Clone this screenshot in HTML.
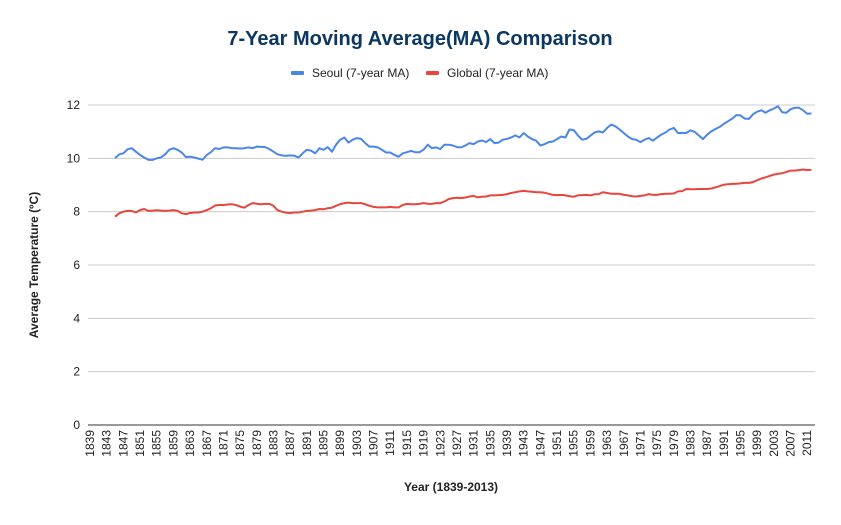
<!DOCTYPE html>
<html><head><meta charset="utf-8"><style>
body{margin:0;background:#fff;font-family:"Liberation Sans",Arial,sans-serif}
svg text{font-family:"Liberation Sans",Arial,sans-serif}
</style></head><body>
<svg id="chart" width="841" height="520" viewBox="0 0 841 520" xmlns="http://www.w3.org/2000/svg">
<rect width="841" height="520" fill="#fff"/>
<text x="420" y="45" text-anchor="middle" font-size="20" font-weight="bold" fill="#0b3761">7-Year Moving Average(MA) Comparison</text>
<g>
<g><rect x="291" y="71" width="13" height="4" rx="1" fill="#4a86e8"/><text x="312" y="77" font-size="12" fill="#222">Seoul (7-year MA)</text></g>
<g><rect x="426" y="71" width="13" height="4" rx="1" fill="#e8453c"/><text x="447" y="77" font-size="12" fill="#222">Global (7-year MA)</text></g>
</g>
<text transform="translate(38,265) rotate(-90)" text-anchor="middle" font-size="12" font-weight="bold" fill="#222">Average Temperature (ºC)</text>
<text x="451" y="491" text-anchor="middle" font-size="12" font-weight="bold" fill="#222">Year (1839-2013)</text>
<g id="grid"></g><g id="xt"></g><g id="lines"></g>
</svg>
<script>
const yTicks=[0,2,4,6,8,10,12];
const startYear=1845;
const seoul=[10.0,10.15,10.19,10.34,10.38,10.25,10.13,10.03,9.94,9.94,10.0,10.03,10.15,10.32,10.38,10.32,10.22,10.05,10.06,10.03,9.99,9.95,10.13,10.23,10.38,10.35,10.41,10.41,10.38,10.38,10.37,10.38,10.41,10.38,10.44,10.43,10.42,10.35,10.25,10.15,10.11,10.09,10.11,10.10,10.03,10.19,10.32,10.29,10.19,10.38,10.32,10.42,10.25,10.51,10.70,10.78,10.59,10.70,10.76,10.73,10.57,10.44,10.44,10.41,10.32,10.22,10.22,10.13,10.06,10.19,10.23,10.28,10.23,10.23,10.32,10.51,10.38,10.41,10.35,10.51,10.51,10.48,10.42,10.41,10.48,10.57,10.53,10.63,10.67,10.61,10.72,10.57,10.59,10.70,10.73,10.78,10.86,10.78,10.95,10.82,10.72,10.66,10.48,10.53,10.61,10.63,10.72,10.82,10.78,11.08,11.06,10.86,10.70,10.73,10.85,10.97,11.01,10.97,11.14,11.27,11.20,11.08,10.95,10.82,10.72,10.70,10.61,10.70,10.76,10.66,10.78,10.89,10.97,11.08,11.14,10.95,10.95,10.95,11.05,10.99,10.86,10.72,10.89,11.01,11.10,11.18,11.29,11.39,11.49,11.62,11.61,11.49,11.48,11.65,11.75,11.80,11.71,11.80,11.87,11.95,11.73,11.71,11.84,11.90,11.90,11.80,11.67,11.68];
const globalT=[7.81,7.94,8.0,8.03,8.03,7.97,8.06,8.10,8.03,8.04,8.05,8.04,8.03,8.04,8.06,8.03,7.94,7.91,7.95,7.97,7.97,8.0,8.06,8.13,8.23,8.25,8.25,8.27,8.28,8.25,8.19,8.15,8.25,8.32,8.30,8.28,8.29,8.29,8.22,8.05,8.0,7.96,7.95,7.97,7.97,8.0,8.03,8.04,8.06,8.10,8.09,8.13,8.15,8.22,8.28,8.32,8.34,8.32,8.32,8.32,8.28,8.22,8.18,8.16,8.16,8.16,8.18,8.16,8.16,8.25,8.29,8.28,8.28,8.29,8.32,8.30,8.29,8.32,8.32,8.38,8.47,8.51,8.52,8.51,8.53,8.57,8.59,8.54,8.56,8.57,8.61,8.61,8.62,8.63,8.66,8.70,8.73,8.76,8.78,8.76,8.75,8.73,8.73,8.71,8.67,8.63,8.62,8.63,8.61,8.58,8.56,8.61,8.62,8.63,8.61,8.65,8.66,8.73,8.70,8.67,8.67,8.67,8.63,8.61,8.58,8.57,8.59,8.61,8.66,8.63,8.63,8.66,8.67,8.67,8.68,8.76,8.77,8.85,8.84,8.84,8.85,8.85,8.85,8.87,8.91,8.96,9.01,9.03,9.04,9.05,9.06,9.08,9.08,9.11,9.18,9.24,9.29,9.34,9.39,9.42,9.44,9.49,9.54,9.54,9.56,9.58,9.56,9.57];
const NS="http://www.w3.org/2000/svg";
function xS(yr){return 90+(yr-1839)*4.17;}
function yS(v){return 425-v*26.667;}
const grid=document.getElementById('grid');
yTicks.forEach(t=>{
  const l=document.createElementNS(NS,'line');
  
  
  l.setAttribute('x1',88);l.setAttribute('x2',815);
  l.setAttribute('y1',yS(t));l.setAttribute('y2',yS(t));
  l.setAttribute('stroke',t===0?'#333':'#ccc');l.setAttribute('stroke-width','1');
  grid.appendChild(l);
  const tx=document.createElementNS(NS,'text');
  
  
  tx.setAttribute('x',80);tx.setAttribute('y',yS(t)+4);
  tx.setAttribute('text-anchor','end');tx.setAttribute('font-size','12');tx.setAttribute('fill','#222');
  tx.textContent=t;grid.appendChild(tx);
});
const xt=document.getElementById('xt');
for(let yr=1839;yr<=2011;yr+=4){
  const tx=document.createElementNS(NS,'text');
  
  
  const x=xS(yr)+4;
  tx.setAttribute('transform','translate('+x+',430) rotate(-90)');
  tx.setAttribute('text-anchor','end');tx.setAttribute('font-size','12');tx.setAttribute('fill','#222');
  tx.textContent=yr;xt.appendChild(tx);
}
const lines=document.getElementById('lines');
function draw(arr,color,name){
  const p=document.createElementNS(NS,'polyline');
  
  
  p.setAttribute('points',arr.map((v,i)=>xS(startYear+i).toFixed(1)+','+yS(v).toFixed(1)).join(' '));
  p.setAttribute('fill','none');p.setAttribute('stroke',color);p.setAttribute('stroke-width','2');p.setAttribute('stroke-linejoin','round');
  lines.appendChild(p);
}
draw(seoul,'#4a86e8','seoul-line');
draw(globalT,'#e8453c','global-line');
</script>
</body></html>
